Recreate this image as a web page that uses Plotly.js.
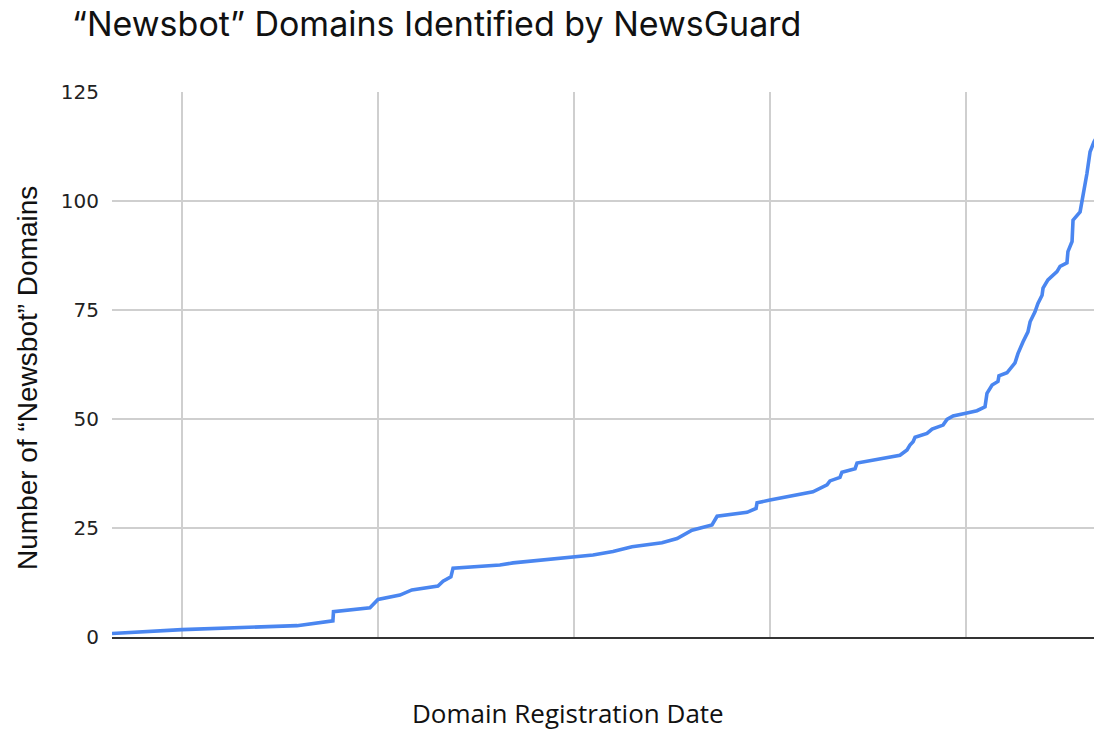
<!DOCTYPE html>
<html>
<head>
<meta charset="utf-8">
<script src="https://cdn.plot.ly/plotly-3.0.1.min.js"></script>
<style>html,body{margin:0;padding:0;background:#fff;}#chart{width:1094px;height:732px;}</style>
</head>
<body>
<div id="chart"></div>
<script>
// Registration-date position (axis units, one gridline per unit) and cumulative domain count
const registrationPos = [0.643,1.000,1.587,1.770,1.773,1.959,2.000,2.112,2.173,2.306,2.332,2.372,2.383,2.622,2.689,2.995,3.097,3.199,3.296,3.449,3.526,3.602,3.704,3.730,3.883,3.929,3.934,4.000,4.153,4.219,4.291,4.306,4.357,4.367,4.434,4.444,4.663,4.699,4.714,4.730,4.740,4.801,4.827,4.883,4.903,4.934,5.005,5.056,5.097,5.107,5.133,5.163,5.168,5.209,5.250,5.265,5.291,5.316,5.327,5.352,5.367,5.388,5.393,5.418,5.464,5.480,5.515,5.520,5.541,5.546,5.582,5.597,5.617,5.633,5.653,5.673];
const domainCount = [0.8,1.7,2.6,3.7,5.8,6.7,8.6,9.6,10.8,11.7,12.8,13.8,15.8,16.5,17,18.2,18.8,19.6,20.7,21.6,22.6,24.5,25.7,27.7,28.6,29.5,30.8,31.4,32.6,33.3,34.9,35.8,36.6,37.8,38.6,39.9,41.7,42.9,44,44.8,45.8,46.7,47.7,48.6,49.9,50.7,51.4,51.9,52.8,55.9,57.8,58.6,59.9,60.6,62.9,65,67.7,70,72.3,74.6,76.5,78.4,80,81.9,83.8,85,85.8,88.4,90.7,95.6,97.5,101,106.3,111.3,113.6,115];
const yTicks = [0,25,50,75,100,125];

const chartTitle = '\u201cNewsbot\u201d Domains Identified by NewsGuard';
const xTitle = 'Domain Registration Date';
const yTitle = 'Number of \u201cNewsbot\u201d Domains';

const trace = {
  x: registrationPos, y: domainCount, type: 'scatter', mode: 'lines',
  line: {color: '#4a86f0', width: 3.6, shape: 'linear'},
  hoverinfo: 'y'
};

const layout = {
  width: 1094, height: 732,
  margin: {l: 112, r: 0, t: 92, b: 95, pad: 0},
  paper_bgcolor: '#fff', plot_bgcolor: '#fff',
  showlegend: false,
  title: {
    text: chartTitle, xref: 'container', yref: 'container',
    x: 72/1094, xanchor: 'left', y: 1 - 24/732, yanchor: 'middle',
    font: {family: 'Inter, "Liberation Sans", sans-serif', size: 34, color: '#111'}
  },
  xaxis: {
    range: [0.643, 5.653], tick0: 0, dtick: 1,
    showticklabels: false, ticks: '',
    showgrid: true, gridcolor: '#cfcfcf', gridwidth: 1.6,
    zeroline: false, showline: true, linecolor: '#333', linewidth: 2,
    fixedrange: true
  },
  yaxis: {
    range: [0, 125], tickvals: yTicks, ticktext: yTicks.map(String),
    ticks: '', ticklabelstandoff: 12,
    tickfont: {family: '"DejaVu Sans", "Liberation Sans", sans-serif', size: 20, color: '#222'},
    showgrid: true, gridcolor: '#cfcfcf', gridwidth: 1.6,
    zeroline: false, showline: false, fixedrange: true
  },
  annotations: [
    {text: xTitle, xref: 'paper', yref: 'paper', x: 0, y: 0, xanchor: 'center', yanchor: 'middle',
     xshift: 568 - 112, yshift: -(713 - 637), showarrow: false, borderpad: 0,
     font: {family: '"Open Sans", Lato, sans-serif', size: 26, color: '#111'}},
    {text: yTitle, xref: 'paper', yref: 'paper', x: 0, y: 0, xanchor: 'center', yanchor: 'middle',
     xshift: -(112 - 27), yshift: 637 - 378, textangle: -90, showarrow: false,
     font: {family: '"Liberation Sans", Arial, sans-serif', size: 28, color: '#111'}}
  ]
};

Plotly.newPlot('chart', [trace], layout, {displayModeBar: false, staticPlot: true});
</script>
</body>
</html>
